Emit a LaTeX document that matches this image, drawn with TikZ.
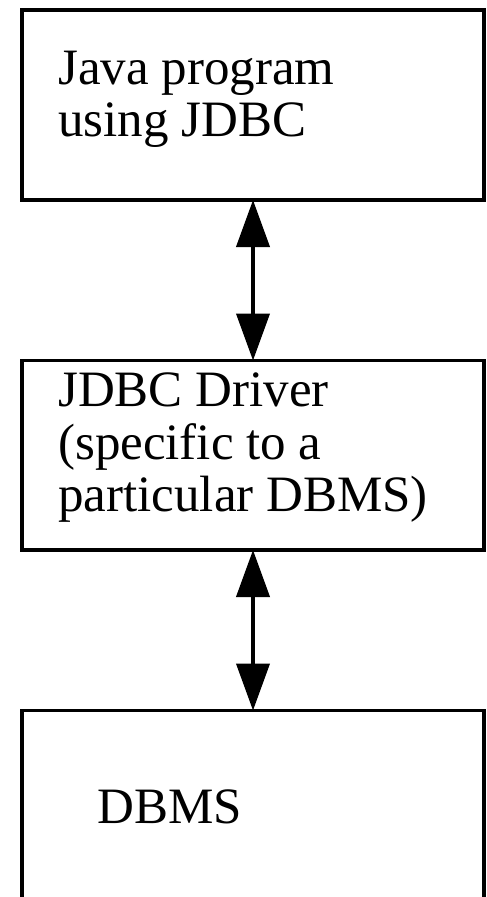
\documentclass[tikz,border=0pt]{standalone}
\usepackage{fontspec}
\setmainfont{Liberation Serif}
\usetikzlibrary{arrows.meta}
\begin{document}
\begin{tikzpicture}[x=1pt,y=-1pt,
  boxstyle/.style={draw=black,line width=3.5pt,inner sep=0pt,outer sep=0pt,minimum width=462pt},
  txt/.style={anchor=base west,inner sep=0pt,align=left,font=\fontsize{51}{52.5}\selectfont},
  link/.style={line width=4pt,{Triangle[length=47pt,width=33pt]}-{Triangle[length=47pt,width=33pt]}}]
\useasboundingbox (0,0) rectangle (487,897);
\node[boxstyle,minimum height=190pt] (java) at (253,105) {};
\node[boxstyle,minimum height=189.5pt] (driver) at (253,455.25) {};
\node[boxstyle,minimum height=200pt] (dbms) at (253,810.5) {};
\node[txt] (t1) at (58,136.7) {Java program\\using JDBC};
\node[txt] (t2) at (58,511.7) {JDBC Driver\\(specific to a\\particular DBMS)};
\node[txt] (t3) at (97,823) {DBMS};
\draw[link] (java.south) -- (driver.north);
\draw[link] (driver.south) -- (dbms.north);
\end{tikzpicture}
\end{document}
